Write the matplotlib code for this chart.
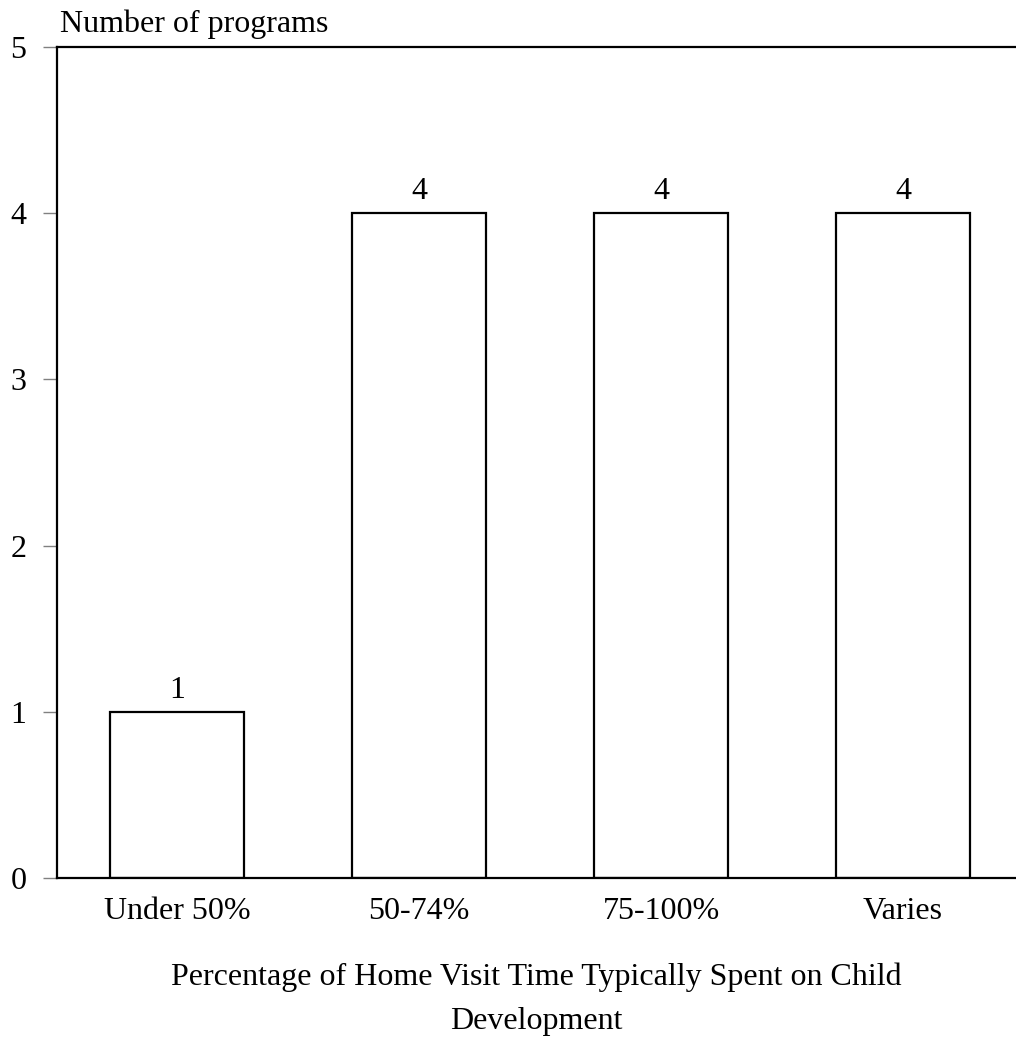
import matplotlib.pyplot as plt

categories = ["Under 50%", "50-74%", "75-100%", "Varies"]
counts = [1, 4, 4, 4]
yticks = [0, 1, 2, 3, 4, 5]

plt.rcParams["font.family"] = ["Liberation Serif", "DejaVu Serif"]
FS = 23

fig = plt.figure(figsize=(10.16, 10.59), dpi=100)
ax = fig.add_axes([0.0561, 0.1709, 0.9439, 0.7847])

x = list(range(len(categories)))
ax.bar(x, counts, width=0.553, color="white", edgecolor="black", linewidth=1.6)
for xi, c in zip(x, counts):
    ax.annotate(str(c), (xi, c), xytext=(0, 5), textcoords="offset points",
                ha="center", va="bottom", fontsize=FS)

ax.set_xlim(-0.496, 3.467)
ax.set_ylim(0, 5)
ax.set_yticks(yticks)
ax.set_xticks(x)
ax.set_xticklabels(categories)
ax.tick_params(axis="y", length=10, width=1, color="#808080", pad=12, labelsize=FS)
ax.tick_params(axis="x", length=0, pad=14, labelsize=FS)

for s in ["left", "top", "bottom"]:
    ax.spines[s].set_linewidth(1.6)
ax.spines["right"].set_visible(False)

ax.text(0.003, 1.01, "Number of programs", transform=ax.transAxes,
        ha="left", va="bottom", fontsize=FS)
ax.set_xlabel("Percentage of Home Visit Time Typically Spent on Child\nDevelopment",
              fontsize=FS, labelpad=26, linespacing=1.68)

fig.savefig("out.png", dpi=100)
